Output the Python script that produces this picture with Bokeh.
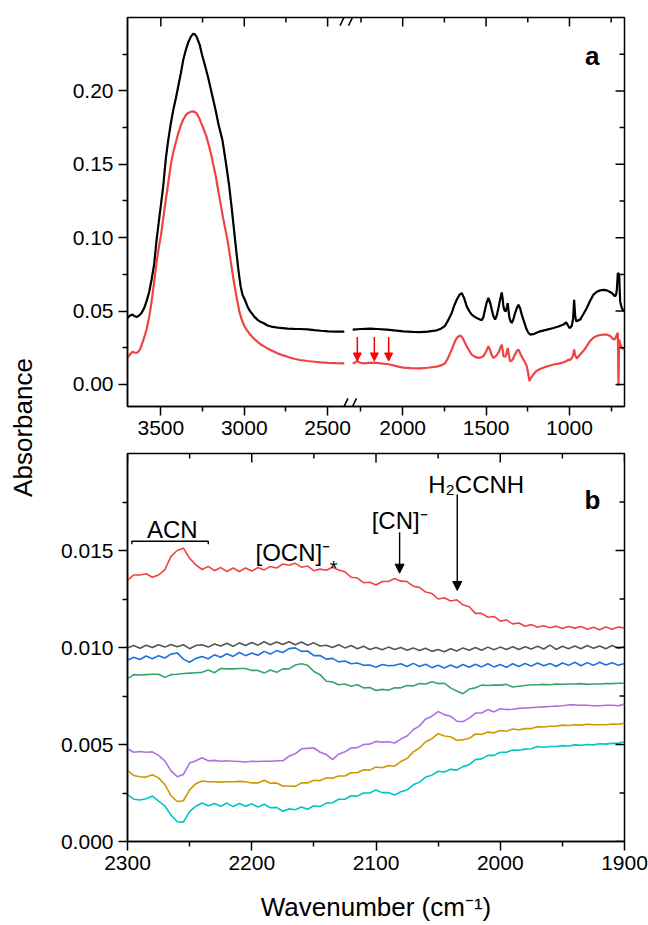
import numpy as np
from math import pi
from bokeh.plotting import figure
from bokeh.models import (Range1d, FixedTicker, PrintfTickFormatter,
                          CustomJSTickFormatter, Label, Arrow, NormalHead)
from bokeh.layouts import row, column
from bokeh.embed import file_html
from bokeh.resources import INLINE

# ---------------- Panel a data (broken wavenumber axis) ----------------
a_left_wn = [3700, 3685, 3670, 3658, 3646, 3630, 3616, 3600, 3586, 3570, 3556, 3540, 3526, 3510,
             3500, 3486, 3470, 3456, 3440, 3426, 3410, 3396, 3380, 3366, 3350, 3336, 3320, 3306,
             3296, 3286, 3276, 3266, 3254, 3242, 3230, 3216, 3200, 3186, 3170, 3156, 3143, 3130,
             3118, 3106, 3090, 3076, 3060, 3046, 3034, 3022, 3010, 2996, 2980, 2966, 2956, 2940,
             2920, 2900, 2886, 2860, 2830, 2786, 2740, 2700, 2666, 2620, 2580, 2540, 2496, 2450, 2400]
a_left_black = [0.0453, 0.0470, 0.0476, 0.0466, 0.0460, 0.0470, 0.0487, 0.0520, 0.0566, 0.0630,
                0.0712, 0.0820, 0.0980, 0.1130, 0.1220, 0.1350, 0.1540, 0.1663, 0.1780, 0.1868,
                0.1950, 0.2030, 0.2120, 0.2210, 0.2280, 0.2330, 0.2370, 0.2390, 0.2385, 0.2370,
                0.2340, 0.2310, 0.2250, 0.2200, 0.2150, 0.2090, 0.2010, 0.1940, 0.1860, 0.1780,
                0.1720, 0.1660, 0.1570, 0.1480, 0.1350, 0.1210, 0.1040, 0.0890, 0.0770, 0.0670,
                0.0610, 0.0577, 0.0530, 0.0500, 0.0487, 0.0462, 0.0440, 0.0425, 0.0419, 0.0402,
                0.0392, 0.0385, 0.0381, 0.0379, 0.0378, 0.0375, 0.0370, 0.0366, 0.0362, 0.0360, 0.0360]
a_left_red_wn = [3700, 3685, 3670, 3658, 3646, 3636, 3626, 3610, 3596, 3586, 3570, 3556, 3540, 3526,
                 3510, 3500, 3486, 3470, 3456, 3440, 3426, 3410, 3396, 3380, 3366, 3350, 3336, 3320,
                 3310, 3298, 3286, 3270, 3256, 3240, 3226, 3210, 3196, 3186, 3170, 3156, 3140, 3126,
                 3112, 3100, 3086, 3076, 3062, 3050, 3040, 3030, 3016, 3000, 2986, 2966, 2946, 2920,
                 2900, 2866, 2830, 2800, 2766, 2730, 2700, 2666, 2620, 2580, 2540, 2496, 2450, 2400]
a_left_red = [0.0181, 0.0205, 0.0222, 0.0218, 0.0215, 0.0222, 0.0238, 0.0285, 0.0335, 0.0374,
              0.0460, 0.0560, 0.0700, 0.0830, 0.0950, 0.1010, 0.1130, 0.1260, 0.1370, 0.1500,
              0.1580, 0.1650, 0.1710, 0.1765, 0.1805, 0.1835, 0.1850, 0.1858, 0.1860, 0.1857,
              0.1848, 0.1815, 0.1775, 0.1730, 0.1686, 0.1620, 0.1555, 0.1500, 0.1415, 0.1320,
              0.1220, 0.1130, 0.1050, 0.0980, 0.0880, 0.0800, 0.0700, 0.0620, 0.0560, 0.0500,
              0.0445, 0.0400, 0.0374, 0.0342, 0.0317, 0.0290, 0.0272, 0.0249, 0.0228, 0.0212,
              0.0198, 0.0185, 0.0175, 0.0167, 0.0160, 0.0155, 0.0150, 0.0147, 0.0145, 0.0144]

a_right_black_wn = [2300, 2250, 2196, 2150, 2096, 2050, 1996, 1940, 1896, 1850, 1796, 1770, 1746,
                    1726, 1706, 1690, 1676, 1660, 1646, 1632, 1616, 1600, 1586, 1570, 1556, 1540,
                    1526, 1516, 1506, 1496, 1486, 1476, 1466, 1456, 1446, 1436, 1426, 1416, 1406,
                    1400, 1396, 1390, 1382, 1376, 1370, 1365, 1360, 1353, 1346, 1336, 1326, 1316,
                    1306, 1296, 1286, 1273, 1260, 1248, 1236, 1210, 1176, 1140, 1096, 1066, 1036,
                    1020, 1010, 1000, 993, 986, 978, 972, 966, 960, 950, 936, 916, 896, 876, 856,
                    836, 816, 796, 776, 760, 746, 736, 726, 720, 716, 712, 710, 706, 702, 699, 696,
                    690, 686, 678, 670]
a_right_black = [0.0374, 0.0378, 0.0380, 0.0378, 0.0374, 0.0368, 0.0362, 0.0358, 0.0357, 0.0360,
                 0.0369, 0.0380, 0.0400, 0.0440, 0.0487, 0.0540, 0.0577, 0.0610, 0.0623, 0.0590,
                 0.0532, 0.0498, 0.0476, 0.0462, 0.0453, 0.0445, 0.0437, 0.0460, 0.0510, 0.0560,
                 0.0589, 0.0560, 0.0510, 0.0465, 0.0442, 0.0470, 0.0521, 0.0575, 0.0627, 0.0580,
                 0.0532, 0.0505, 0.0498, 0.0525, 0.0555, 0.0500, 0.0453, 0.0430, 0.0419, 0.0445,
                 0.0487, 0.0520, 0.0543, 0.0520, 0.0476, 0.0430, 0.0385, 0.0355, 0.0340, 0.0345,
                 0.0362, 0.0372, 0.0385, 0.0395, 0.0408, 0.0423, 0.0405, 0.0385, 0.0390, 0.0400,
                 0.0450, 0.0577, 0.0470, 0.0430, 0.0435, 0.0442, 0.0480, 0.0521, 0.0570, 0.0612,
                 0.0632, 0.0641, 0.0645, 0.0641, 0.0632, 0.0623, 0.0612, 0.0600, 0.0615, 0.0645,
                 0.0720, 0.0759, 0.0755, 0.0748, 0.0650, 0.0566, 0.0535, 0.0521, 0.0505, 0.0498]

a_right_red_wn = [2300, 2285, 2272, 2260, 2236, 2200, 2166, 2130, 2086, 2050, 2020, 1996, 1950, 1896,
                  1850, 1796, 1766, 1746, 1726, 1706, 1690, 1676, 1662, 1652, 1640, 1628, 1616, 1600,
                  1586, 1566, 1546, 1530, 1516, 1500, 1486, 1476, 1466, 1456, 1440, 1426, 1416, 1406,
                  1400, 1396, 1388, 1382, 1376, 1370, 1363, 1356, 1348, 1340, 1326, 1316, 1306, 1296,
                  1286, 1276, 1266, 1256, 1248, 1240, 1230, 1216, 1200, 1176, 1150, 1120, 1096, 1066,
                  1036, 1020, 1006, 996, 986, 978, 972, 966, 956, 946, 936, 916, 896, 876, 856, 836,
                  816, 796, 776, 756, 736, 726, 720, 714, 710, 708, 706, 704, 702, 696, 690, 680, 670]
a_right_red = [0.0144, 0.0150, 0.0160, 0.0150, 0.0144, 0.0147, 0.0149, 0.0144, 0.0138, 0.0128,
               0.0120, 0.0115, 0.0112, 0.0110, 0.0114, 0.0122, 0.0132, 0.0144, 0.0185, 0.0238,
               0.0285, 0.0317, 0.0330, 0.0333, 0.0315, 0.0288, 0.0260, 0.0228, 0.0204, 0.0188,
               0.0181, 0.0185, 0.0192, 0.0225, 0.0260, 0.0235, 0.0200, 0.0181, 0.0195, 0.0215,
               0.0245, 0.0272, 0.0230, 0.0192, 0.0190, 0.0192, 0.0220, 0.0249, 0.0200, 0.0158,
               0.0162, 0.0170, 0.0205, 0.0228, 0.0238, 0.0215, 0.0190, 0.0170, 0.0150, 0.0125,
               0.0080, 0.0023, 0.0045, 0.0068, 0.0090, 0.0106, 0.0118, 0.0128, 0.0136, 0.0142,
               0.0151, 0.0158, 0.0170, 0.0166, 0.0181, 0.0200, 0.0238, 0.0200, 0.0177, 0.0190,
               0.0205, 0.0229, 0.0262, 0.0297, 0.0318, 0.0331, 0.0337, 0.0340, 0.0340, 0.0330,
               0.0306, 0.0310, 0.0328, 0.0345, 0.0351, 0.0200, -0.0010, 0.0150, 0.0306, 0.0280,
               0.0260, 0.0245, 0.0238]

a_xticks = [3500, 3000, 2500, 2000, 1500, 1000]
a_xminor = [3250, 2750, 2250, 1750, 1250, 750]
a_yticks = [0.0, 0.05, 0.10, 0.15, 0.20]
a_yminor = [0.025, 0.075, 0.125, 0.175, 0.225]
a_arrow_wn = [2272, 2170, 2084]

# ---------------- Panel b data ----------------
b_wn = list(range(2300, 1899, -5))
b_red = [0.01346, 0.01374, 0.01374, 0.01380, 0.01362, 0.01374, 0.01400, 0.01470, 0.01500, 0.01512,
         0.01460, 0.01426, 0.01402, 0.01418, 0.01396, 0.01412, 0.01392, 0.01410, 0.01392, 0.01410,
         0.01394, 0.01412, 0.01400, 0.01418, 0.01410, 0.01430, 0.01424, 0.01434, 0.01414, 0.01420,
         0.01396, 0.01404, 0.01398, 0.01414, 0.01400, 0.01390, 0.01362, 0.01358, 0.01334, 0.01336,
         0.01322, 0.01340, 0.01340, 0.01356, 0.01342, 0.01340, 0.01316, 0.01310, 0.01286, 0.01278,
         0.01250, 0.01256, 0.01240, 0.01246, 0.01220, 0.01210, 0.01176, 0.01176, 0.01156, 0.01160,
         0.01136, 0.01142, 0.01122, 0.01126, 0.01110, 0.01118, 0.01104, 0.01112, 0.01102, 0.01110,
         0.01098, 0.01108, 0.01100, 0.01108, 0.01094, 0.01104, 0.01092, 0.01106, 0.01094, 0.01106,
         0.01100]
b_gray = [0.00998, 0.01010, 0.00996, 0.01012, 0.01000, 0.01014, 0.01002, 0.01016, 0.01004, 0.01014,
          0.00994, 0.01010, 0.01014, 0.01002, 0.01018, 0.01008, 0.01022, 0.01006, 0.01024, 0.01010,
          0.01026, 0.01012, 0.01030, 0.01014, 0.01028, 0.01016, 0.01030, 0.01014, 0.01028, 0.01012,
          0.01024, 0.01008, 0.01012, 0.01000, 0.01014, 0.00998, 0.01010, 0.00994, 0.01006, 0.00990,
          0.01000, 0.00988, 0.01002, 0.00990, 0.01000, 0.00986, 0.00998, 0.00984, 0.00996, 0.00980,
          0.00990, 0.00978, 0.00994, 0.00982, 0.00998, 0.00986, 0.01000, 0.00986, 0.01002, 0.00988,
          0.01002, 0.00990, 0.01004, 0.00990, 0.01004, 0.00992, 0.01006, 0.00992, 0.01012, 0.00990,
          0.01006, 0.00994, 0.01008, 0.00994, 0.01010, 0.00996, 0.01008, 0.00994, 0.01010, 0.00996,
          0.01004]
b_blue = [0.00934, 0.00950, 0.00938, 0.00956, 0.00942, 0.00958, 0.00946, 0.00966, 0.00972, 0.00940,
          0.00924, 0.00944, 0.00954, 0.00942, 0.00962, 0.00950, 0.00968, 0.00954, 0.00974, 0.00958,
          0.00972, 0.00960, 0.00980, 0.00966, 0.00984, 0.00974, 0.00994, 0.00998, 0.00980, 0.00982,
          0.00958, 0.00959, 0.00940, 0.00944, 0.00926, 0.00930, 0.00916, 0.00920, 0.00908, 0.00910,
          0.00898, 0.00912, 0.00906, 0.00908, 0.00916, 0.00902, 0.00918, 0.00902, 0.00914, 0.00896,
          0.00908, 0.00894, 0.00910, 0.00896, 0.00912, 0.00898, 0.00914, 0.00900, 0.00916, 0.00900,
          0.00912, 0.00898, 0.00916, 0.00902, 0.00918, 0.00904, 0.00920, 0.00906, 0.00918, 0.00902,
          0.00920, 0.00908, 0.00924, 0.00906, 0.00922, 0.00908, 0.00924, 0.00910, 0.00922, 0.00908,
          0.00918]
b_green = [0.00838, 0.00860, 0.00858, 0.00860, 0.00862, 0.00862, 0.00846, 0.00860, 0.00862, 0.00866,
           0.00868, 0.00870, 0.00872, 0.00884, 0.00870, 0.00892, 0.00890, 0.00890, 0.00892, 0.00892,
           0.00882, 0.00882, 0.00868, 0.00884, 0.00872, 0.00890, 0.00890, 0.00910, 0.00916, 0.00908,
           0.00876, 0.00860, 0.00826, 0.00822, 0.00808, 0.00812, 0.00800, 0.00808, 0.00792, 0.00794,
           0.00778, 0.00784, 0.00780, 0.00792, 0.00792, 0.00804, 0.00802, 0.00814, 0.00812, 0.00824,
           0.00814, 0.00816, 0.00792, 0.00776, 0.00762, 0.00786, 0.00792, 0.00806, 0.00804, 0.00806,
           0.00806, 0.00810, 0.00796, 0.00800, 0.00804, 0.00808, 0.00808, 0.00810, 0.00808, 0.00812,
           0.00810, 0.00812, 0.00812, 0.00814, 0.00810, 0.00812, 0.00812, 0.00814, 0.00814, 0.00816,
           0.00816]
b_purple = [0.00478, 0.00460, 0.00464, 0.00460, 0.00462, 0.00444, 0.00416, 0.00364, 0.00334, 0.00346,
            0.00404, 0.00416, 0.00432, 0.00416, 0.00418, 0.00414, 0.00416, 0.00414, 0.00412, 0.00410,
            0.00414, 0.00412, 0.00414, 0.00414, 0.00416, 0.00416, 0.00440, 0.00452, 0.00478, 0.00480,
            0.00482, 0.00460, 0.00448, 0.00422, 0.00450, 0.00462, 0.00482, 0.00484, 0.00500, 0.00502,
            0.00516, 0.00512, 0.00514, 0.00508, 0.00528, 0.00544, 0.00576, 0.00596, 0.00632, 0.00646,
            0.00670, 0.00654, 0.00646, 0.00620, 0.00618, 0.00636, 0.00662, 0.00662, 0.00680, 0.00668,
            0.00684, 0.00680, 0.00682, 0.00686, 0.00688, 0.00690, 0.00692, 0.00694, 0.00696, 0.00698,
            0.00700, 0.00704, 0.00704, 0.00702, 0.00702, 0.00700, 0.00700, 0.00702, 0.00702, 0.00700,
            0.00708]
b_gold = [0.00366, 0.00340, 0.00334, 0.00332, 0.00344, 0.00328, 0.00294, 0.00236, 0.00206, 0.00210,
          0.00266, 0.00298, 0.00312, 0.00308, 0.00308, 0.00306, 0.00308, 0.00308, 0.00310, 0.00308,
          0.00302, 0.00302, 0.00316, 0.00300, 0.00302, 0.00286, 0.00286, 0.00284, 0.00302, 0.00302,
          0.00316, 0.00314, 0.00328, 0.00326, 0.00338, 0.00338, 0.00354, 0.00354, 0.00370, 0.00368,
          0.00384, 0.00380, 0.00392, 0.00388, 0.00412, 0.00428, 0.00462, 0.00482, 0.00514, 0.00530,
          0.00556, 0.00544, 0.00540, 0.00522, 0.00524, 0.00532, 0.00554, 0.00552, 0.00564, 0.00560,
          0.00572, 0.00568, 0.00580, 0.00576, 0.00582, 0.00582, 0.00592, 0.00590, 0.00594, 0.00594,
          0.00600, 0.00598, 0.00602, 0.00600, 0.00604, 0.00602, 0.00602, 0.00602, 0.00606, 0.00604,
          0.00610]
b_cyan = [0.00242, 0.00218, 0.00214, 0.00220, 0.00234, 0.00208, 0.00184, 0.00136, 0.00102, 0.00100,
          0.00154, 0.00182, 0.00198, 0.00184, 0.00196, 0.00182, 0.00198, 0.00180, 0.00196, 0.00182,
          0.00194, 0.00178, 0.00192, 0.00174, 0.00176, 0.00156, 0.00168, 0.00164, 0.00178, 0.00166,
          0.00184, 0.00180, 0.00198, 0.00200, 0.00218, 0.00218, 0.00236, 0.00234, 0.00250, 0.00250,
          0.00266, 0.00252, 0.00252, 0.00240, 0.00256, 0.00266, 0.00292, 0.00306, 0.00332, 0.00342,
          0.00362, 0.00358, 0.00372, 0.00368, 0.00386, 0.00396, 0.00422, 0.00426, 0.00444, 0.00444,
          0.00460, 0.00460, 0.00472, 0.00470, 0.00476, 0.00478, 0.00490, 0.00486, 0.00490, 0.00490,
          0.00494, 0.00492, 0.00498, 0.00496, 0.00500, 0.00498, 0.00504, 0.00502, 0.00506, 0.00506,
          0.00516]
b_series = [("red", b_red), ("gray", b_gray), ("blue", b_blue), ("green", b_green),
            ("purple", b_purple), ("gold", b_gold), ("cyan", b_cyan)]
b_colors = {"red": "#EF4444", "gray": "#555555", "blue": "#1F6FE0", "green": "#35A56A",
            "purple": "#B070E0", "gold": "#CC9900", "cyan": "#00C4C8"}
b_xticks = [2300, 2200, 2100, 2000, 1900]
b_xminor = [2250, 2150, 2050, 1950]
b_yticks = [0.0, 0.005, 0.010, 0.015]
b_yminor = [0.0025, 0.0075, 0.0125, 0.0175]

FONT = "Liberation Sans"
TICK_FS = "21px"
FRAME_W = 497          # plot-area width of both panels (px)
A_FRAME_H, B_FRAME_H = 389, 388

# broken axis: the part at or below 2300 cm-1 is shifted by SHIFT so that
# the 2400-2300 interval is squeezed into a narrow gap
GAP_LOW, SHIFT = 2300, 50


def to_u(v):
    v = np.asarray(v, dtype=float)
    return np.where(v <= GAP_LOW, v + SHIFT, v)


def style_axis(ax):
    ax.axis_line_width = 1.5
    ax.axis_line_color = "black"
    ax.major_tick_line_width = 1.5
    ax.minor_tick_line_width = 1.5
    ax.major_tick_line_color = "black"
    ax.minor_tick_line_color = "black"
    ax.major_tick_out, ax.major_tick_in = 9, 0
    ax.minor_tick_out, ax.minor_tick_in = 5, 0
    ax.major_label_text_font = FONT
    ax.major_label_text_font_size = TICK_FS
    ax.major_label_text_color = "black"
    ax.major_label_standoff = 5


def mirror_ticks(p, x0, x1, y0, y1, frame_h, xmaj, xmin, ymaj, ymin):
    """Inward ticks on the top and right frame edges (9 px major, 5 px minor)."""
    ypp = (y1 - y0) / frame_h          # data units per pixel (y)
    xpp = (x0 - x1) / FRAME_W          # data units per pixel (x, reversed axis)
    kw = dict(line_color="black", line_width=1.5)
    for xs, n in ((xmaj, 9), (xmin, 5)):
        xs = [float(v) for v in xs]
        p.segment(x0=xs, y0=[y1] * len(xs), x1=xs, y1=[y1 - n * ypp] * len(xs), **kw)
    for ys, n in ((ymaj, 9), (ymin, 5)):
        ys = [float(v) for v in ys]
        p.segment(x0=[x1] * len(ys), y0=ys, x1=[x1 + n * xpp] * len(ys), y1=ys, **kw)


def base_fig(**kw):
    p = figure(output_backend="svg", toolbar_location=None, **kw)
    p.xgrid.visible = False
    p.ygrid.visible = False
    p.outline_line_color = "black"
    p.outline_line_width = 1.5
    p.background_fill_color = "white"
    p.border_fill_color = "white"
    return p


def lab(**kw):
    kw.setdefault("text_font", FONT)
    kw.setdefault("text_color", "black")
    return Label(**kw)


# ---------------- Panel a ----------------
A_X0, A_X1, A_Y0, A_Y1 = 3700, 720, -0.015, 0.25
pa = base_fig(width=603, height=443, x_range=Range1d(A_X0, A_X1), y_range=Range1d(A_Y0, A_Y1),
              min_border_left=82, min_border_right=24, min_border_top=17, min_border_bottom=37)

ax_ticker = FixedTicker(ticks=list(to_u(a_xticks)), minor_ticks=list(to_u(a_xminor)))
ay_ticker = FixedTicker(ticks=a_yticks, minor_ticks=a_yminor)
xfmt = CustomJSTickFormatter(args=dict(lo=GAP_LOW + SHIFT, shift=SHIFT),
                             code="return String(Math.round(tick <= lo ? tick - shift : tick));")
pa.xaxis.ticker = ax_ticker
pa.xaxis.formatter = xfmt
pa.yaxis.ticker = ay_ticker
pa.yaxis.formatter = PrintfTickFormatter(format="%.2f")
for ax in pa.xaxis + pa.yaxis:
    style_axis(ax)

black_x = np.concatenate([to_u(a_left_wn), [np.nan], to_u(a_right_black_wn)])
black_y = np.concatenate([a_left_black, [np.nan], a_right_black])
red_x = np.concatenate([to_u(a_left_red_wn), [np.nan], to_u(a_right_red_wn)])
red_y = np.concatenate([a_left_red, [np.nan], a_right_red])
pa.line(black_x, black_y, line_color="black", line_width=2.2)
pa.line(red_x, red_y, line_color="#EF4444", line_width=2.2)

mirror_ticks(pa, A_X0, A_X1, A_Y0, A_Y1, A_FRAME_H, to_u(a_xticks), to_u(a_xminor),
             a_yticks, a_yminor)

for wn in a_arrow_wn:
    u = float(to_u([wn])[0])
    pa.add_layout(Arrow(end=NormalHead(size=8, fill_color="#FF0000", line_color="#FF0000"),
                        x_start=u, y_start=0.0324, x_end=u, y_end=0.0160,
                        line_color="#FF0000", line_width=1.5))

# axis break marks "//"
for (u0, u1) in [(2426, 2378), (2375, 2327)]:
    for yc in (A_Y1, A_Y0):
        pa.add_layout(Arrow(end=None, x_start=u0, y_start=yc - 0.0055, x_end=u1, y_end=yc + 0.0055,
                            line_color="black", line_width=1.5))

pa.add_layout(lab(x=464.7, y=351, x_units="screen", y_units="screen", text="a",
                  text_font_style="bold", text_font_size="26px",
                  text_align="center", text_baseline="alphabetic"))

# ---------------- Panel b ----------------
B_X0, B_X1, B_Y0, B_Y1 = 2300, 1900, 0.0, 0.020
pb = base_fig(width=603, height=482, x_range=Range1d(B_X0, B_X1), y_range=Range1d(B_Y0, B_Y1),
              min_border_left=82, min_border_right=24, min_border_top=10, min_border_bottom=84)
bx_ticker = FixedTicker(ticks=b_xticks, minor_ticks=b_xminor)
by_ticker = FixedTicker(ticks=b_yticks, minor_ticks=b_yminor)
pb.xaxis.ticker = bx_ticker
pb.yaxis.ticker = by_ticker
pb.yaxis.formatter = PrintfTickFormatter(format="%.3f")
for ax in pb.xaxis + pb.yaxis:
    style_axis(ax)
pb.xaxis.axis_label = "Wavenumber (cm\u207b\u00b9)"
pb.xaxis.axis_label_text_font = FONT
pb.xaxis.axis_label_text_font_size = "26px"
pb.xaxis.axis_label_text_font_style = "normal"
pb.xaxis.axis_label_text_color = "black"
pb.xaxis.axis_label_standoff = 19

for name, ys in b_series:
    pb.line(b_wn, ys, line_color=b_colors[name], line_width=1.6)

mirror_ticks(pb, B_X0, B_X1, B_Y0, B_Y1, B_FRAME_H, b_xticks, b_xminor, b_yticks, b_yminor)

# ACN bracket
pb.line([2296.5, 2296.5, 2235, 2235], [0.01532, 0.01548, 0.01548, 0.01532],
        line_color="black", line_width=1.4)
ann_font = "24px"
pb.add_layout(lab(x=2264, y=0.01608, text="ACN", text_font_size=ann_font,
                  text_align="center", text_baseline="alphabetic"))
pb.add_layout(lab(x=2197, y=0.01491, text="[OCN]\u207b", text_font_size=ann_font,
                  text_align="left", text_baseline="alphabetic"))
pb.add_layout(lab(x=2134, y=0.01412, text="*", text_font_size="20px",
                  text_align="center", text_baseline="alphabetic"))
pb.add_layout(lab(x=2103.5, y=0.01655, text="[CN]\u207b", text_font_size=ann_font,
                  text_align="left", text_baseline="alphabetic"))
pb.add_layout(lab(x=2058, y=0.01839, text="H\u2082CCNH", text_font_size=ann_font,
                  text_align="left", text_baseline="alphabetic"))
pb.add_layout(Arrow(end=NormalHead(size=9, fill_color="black", line_color="black"),
                    x_start=2081, y_start=0.01594, x_end=2081, y_end=0.01383,
                    line_color="black", line_width=1.4))
pb.add_layout(Arrow(end=NormalHead(size=9, fill_color="black", line_color="black"),
                    x_start=2034.6, y_start=0.01789, x_end=2034.6, y_end=0.01294,
                    line_color="black", line_width=1.4))
pb.add_layout(lab(x=465, y=341.7, x_units="screen", y_units="screen", text="b",
                  text_font_style="bold", text_font_size="26px",
                  text_align="center", text_baseline="alphabetic"))

# ---------------- shared y-axis title ----------------
pl = figure(width=45, height=925, x_range=Range1d(0, 45), y_range=Range1d(0, 925),
            output_backend="svg", toolbar_location=None, min_border=0,
            x_axis_location=None, y_axis_location=None)
pl.xgrid.visible = False
pl.ygrid.visible = False
pl.outline_line_color = None
pl.add_layout(lab(x=22, y=925 - 427, text="Absorbance", angle=pi / 2,
                  text_font_size="26px", text_align="center", text_baseline="middle"))

layout = row(pl, column(pa, pb, spacing=0), spacing=0)
open("out.html", "w").write(file_html(layout, INLINE))
